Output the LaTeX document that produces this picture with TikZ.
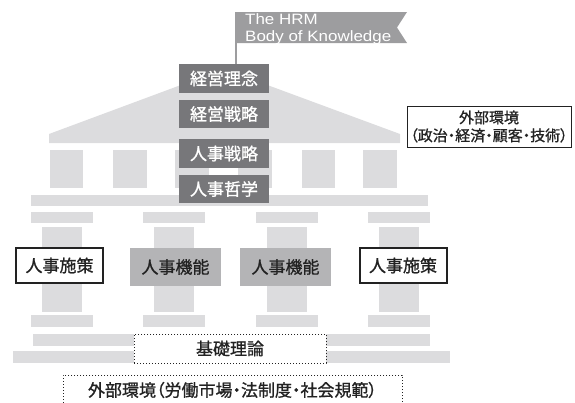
\documentclass[tikz,border=0pt]{standalone}
\usepackage{fontspec}
\setmainfont{Liberation Sans}
\newfontfamily\flagfont[FakeStretch=1.13]{Liberation Sans}
\newfontfamily\jp[RawFeature=+palt, FakeBold=0.9]{Noto Sans CJK JP}
\definecolor{bld}{HTML}{DCDCDE}
\definecolor{dk}{HTML}{77777A}
\definecolor{md}{HTML}{B4B4B6}
\definecolor{fl}{HTML}{9D9D9F}
\definecolor{ink}{HTML}{222222}
\tikzset{
  darkbox/.style={fill=dk, text=white, font=\jp\fontsize{17}{18}\selectfont,
    minimum width=90pt, minimum height=28.5pt, inner sep=0pt},
  policybox/.style={draw=ink, line width=2pt, fill=white, text=ink,
    font=\jp\fontsize{17}{18}\selectfont, minimum width=87pt, minimum height=35pt, inner sep=0pt},
  funcbox/.style={fill=md, text=ink, font=\jp\fontsize{17}{18}\selectfont,
    minimum width=91pt, minimum height=38pt, inner sep=0pt},
  dotbox/.style={draw=ink, dotted, line width=1pt, text=ink, inner sep=0pt},
  part/.style={fill=bld, draw=none}
}
\begin{document}
\begin{tikzpicture}[x=1pt,y=-1pt]
\useasboundingbox (0,0) rectangle (575,402);
\clip (0,0) rectangle (575,402);
% roof
\fill[part] (49,143) -- (49,134) -- (224,69) -- (400,134) -- (400,143) -- cycle;
% upper squares
\foreach \a/\b in {50/83,113/147,175/209,238/272,302/335,363/397}
  \fill[part] (\a,150) rectangle (\b,188);
% beam
\fill[part] (31,195) rectangle (428,206);
% lower columns
\foreach \c in {0,1,2,3}{
  \pgfmathsetmacro{\off}{112.4*\c}
  \fill[part] (31+\off,212) rectangle (93+\off,223);
  \fill[part] (42+\off,227) rectangle (82+\off,312);
  \fill[part] (31+\off,315) rectangle (93+\off,327);
}
% steps
\fill[part] (33,334) rectangle (430,346);
\fill[part] (13,351) rectangle (450,363);
% flag
\fill[fl] (235,12) -- (407,12) -- (397,27.5) -- (407,43) -- (235,43) -- cycle;
\coordinate (poletop) at (236,43);
\node[anchor=north west, inner sep=0pt, text=white, align=left,
  font=\flagfont\fontsize{15}{16.8}\selectfont] (flag) at (245,13.3) {The HRM\\Body of Knowledge};
% dark boxes
\node[darkbox] (rinen) at (224,78.5) {経営理念};
\node[darkbox] (senryaku) at (224,114) {経営戦略};
\node[darkbox] (jsenryaku) at (224,153.5) {人事戦略};
\node[darkbox] (tetsugaku) at (224,189) {人事哲学};
\draw[fl, line width=1.5pt] (poletop) -- (rinen.north -| poletop);
% external env (right)
\node[draw=ink, line width=0.9pt, fill=white, text=ink, align=center,
  minimum width=164pt, minimum height=41pt, inner sep=0pt,
  font=\jp\fontsize{15}{18}\selectfont] (gaibu) at (489,126.5)
  {外部環境\\（政治・経済・顧客・技術）};
% lower boxes
\node[policybox] (shisakuL) at (59.5,265.5) {人事施策};
\node[funcbox] (kinou1) at (175.5,267) {人事機能};
\node[funcbox] (kinou2) at (285.5,267) {人事機能};
\node[policybox] (shisakuR) at (403,265.5) {人事施策};
\node[dotbox, fill=white, minimum width=192pt, minimum height=29pt,
  font=\jp\fontsize{17}{18}\selectfont] (kiso) at (230,348.5) {基礎理論};
\node[dotbox, fill=white, minimum width=339pt, minimum height=30pt,
  font=\jp\fontsize{17}{18}\selectfont] (gaibu2) at (232.5,390) {外部環境（労働市場・法制度・社会規範）};
\end{tikzpicture}
\end{document}
